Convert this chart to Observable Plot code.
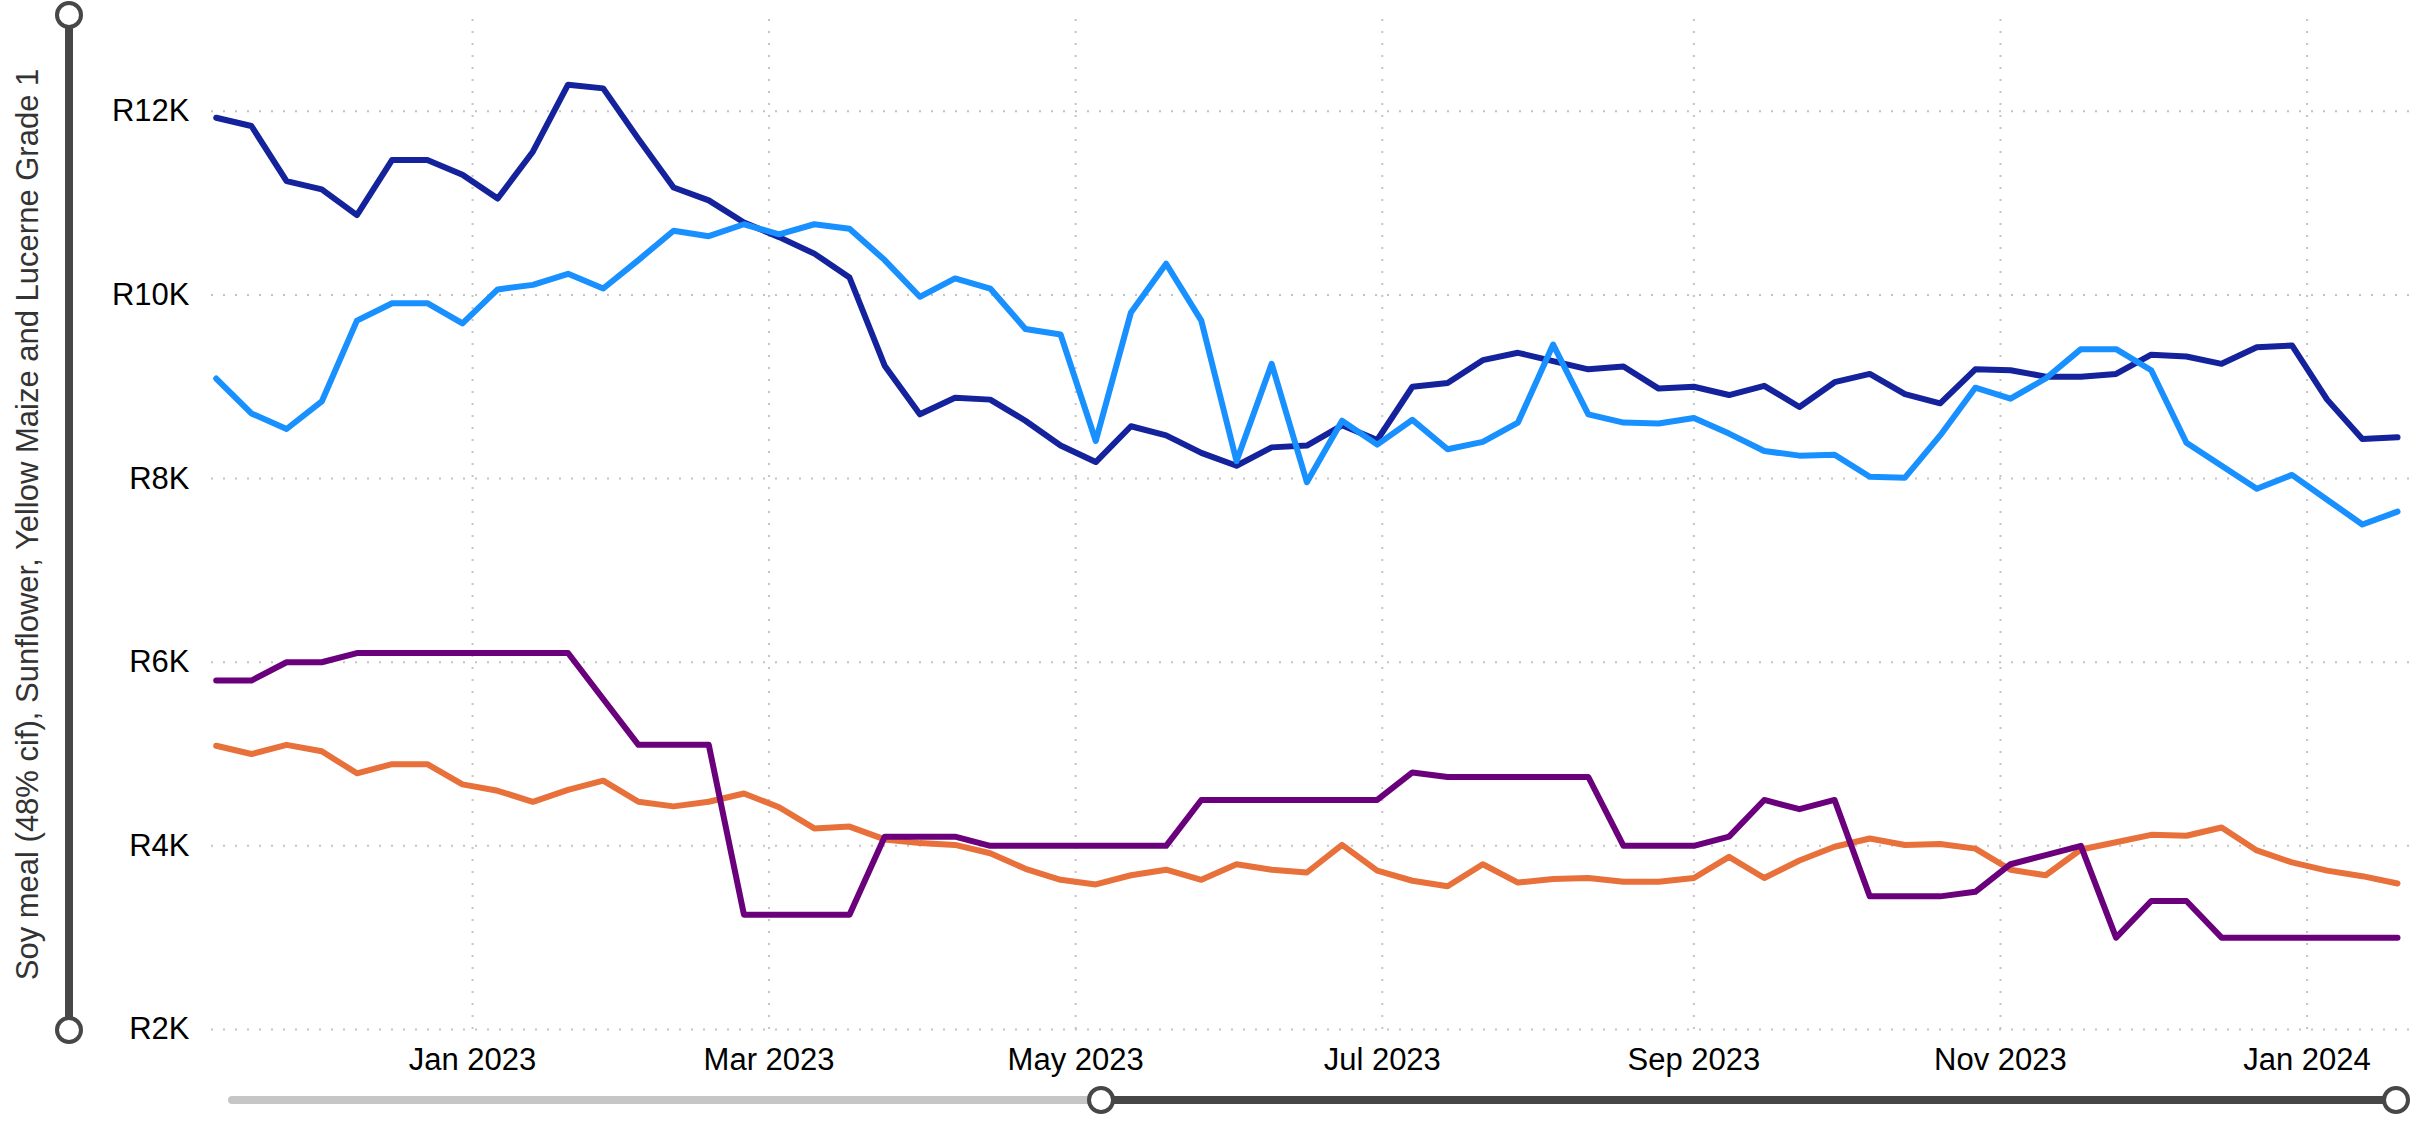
<!DOCTYPE html>
<html>
<head>
<meta charset="utf-8">
<script src="https://cdn.jsdelivr.net/npm/d3@7"></script>
<script src="https://cdn.jsdelivr.net/npm/@observablehq/plot@0.6"></script>
<style>
  html, body { margin: 0; padding: 0; background: #fff; }
  #wrap { position: relative; width: 2418px; height: 1122px; overflow: hidden; }
  #wrap svg { display: block; }
  #overlay { position: absolute; left: 0; top: 0; pointer-events: none; }
</style>
</head>
<body>
<div id="wrap"></div>
<script>
// ---- data ----
const dates = [
  "2022-11-11","2022-11-18","2022-11-25","2022-12-02","2022-12-09","2022-12-16","2022-12-23","2022-12-30",
  "2023-01-06","2023-01-13","2023-01-20","2023-01-27","2023-02-03","2023-02-10","2023-02-17","2023-02-24",
  "2023-03-03","2023-03-10","2023-03-17","2023-03-24","2023-03-31","2023-04-07","2023-04-14","2023-04-21",
  "2023-04-28","2023-05-05","2023-05-12","2023-05-19","2023-05-26","2023-06-02","2023-06-09","2023-06-16",
  "2023-06-23","2023-06-30","2023-07-07","2023-07-14","2023-07-21","2023-07-28","2023-08-04","2023-08-11",
  "2023-08-18","2023-08-25","2023-09-01","2023-09-08","2023-09-15","2023-09-22","2023-09-29","2023-10-06",
  "2023-10-13","2023-10-20","2023-10-27","2023-11-03","2023-11-10","2023-11-17","2023-11-24","2023-12-01",
  "2023-12-08","2023-12-15","2023-12-22","2023-12-29","2024-01-05","2024-01-12","2024-01-19"
];
const soyMeal = [
  11930,11840,11240,11150,10870,11470,11470,11310,11050,11560,
  12290,12250,11700,11170,11030,10790,10630,10450,10190,9230,
  8700,8880,8860,8630,8360,8180,8570,8470,8280,8140,
  8340,8360,8580,8420,9000,9040,9290,9370,9280,9190,
  9220,8980,9000,8910,9010,8780,9050,9140,8920,8820,
  9190,9180,9110,9110,9140,9350,9330,9250,9430,9450,
  8860,8430,8450
];
const sunflower = [
  9090,8710,8540,8840,9720,9910,9910,9690,10060,10110,
  10230,10070,10380,10700,10640,10770,10660,10770,10720,10380,
  9980,10180,10070,9630,9570,8410,9810,10340,9720,8190,
  9250,7960,8630,8370,8640,8320,8400,8610,9460,8700,
  8610,8600,8660,8490,8300,8250,8260,8020,8010,8470,
  8990,8870,9090,9410,9410,9180,8390,8140,7890,8040,
  7770,7500,7640
];
const yellowMaize = [
  5090,5000,5100,5030,4790,4890,4890,4670,4600,4480,
  4610,4710,4480,4430,4480,4570,4420,4190,4210,4070,
  4030,4010,3920,3750,3630,3580,3680,3740,3630,3800,
  3740,3710,4010,3730,3620,3560,3800,3600,3640,3650,
  3610,3610,3650,3880,3650,3840,3990,4080,4010,4020,
  3970,3740,3680,3960,4040,4120,4110,4200,3950,3820,
  3730,3670,3590
];
const lucerne = [
  5800,5800,6000,6000,6100,6100,6100,6100,6100,6100,
  6100,5600,5100,5100,5100,3250,3250,3250,3250,4100,
  4100,4100,4000,4000,4000,4000,4000,4000,4500,4500,
  4500,4500,4500,4500,4800,4750,4750,4750,4750,4750,
  4000,4000,4000,4100,4500,4400,4500,3450,3450,3450,
  3500,3800,3900,4000,3000,3400,3400,3000,3000,3000,
  3000,3000,3000
];
const seriesNames = ["Soy meal (48% cif)", "Sunflower", "Yellow Maize", "Lucerne Grade 1"];
const seriesColors = ["#14229c", "#1890ff", "#e8703a", "#6b007c"];
const yTicks = [2000, 4000, 6000, 8000, 10000, 12000];
const xTickDates = ["2023-01-01","2023-03-01","2023-05-01","2023-07-01","2023-09-01","2023-11-01","2024-01-01"];
const yLabel = "Soy meal (48% cif), Sunflower, Yellow Maize and Lucerne Grade 1";

// ---- build table ----
const seriesValues = [soyMeal, sunflower, yellowMaize, lucerne];
const rows = [];
seriesValues.forEach((vals, s) => {
  vals.forEach((v, i) => rows.push({series: seriesNames[s], date: new Date(dates[i] + "T00:00:00Z"), value: v}));
});
const xTicks = xTickDates.map(d => new Date(d + "T00:00:00Z"));

const W = 2418, H = 1122;
const chart = Plot.plot({
  width: W,
  height: H,
  marginLeft: 211,
  marginRight: 8,
  marginTop: 19,
  marginBottom: 93,
  style: {fontFamily: "'Liberation Sans', Arial, sans-serif", fontSize: "31px", color: "#000", background: "#fff", overflow: "visible"},
  x: {
    type: "utc",
    domain: [new Date("2022-11-10T01:30:00Z"), new Date("2024-01-21T14:00:00Z")],
    ticks: xTicks,
    tickFormat: d3.utcFormat("%b %Y"),
    tickSize: 0,
    tickPadding: 18,
    label: null
  },
  y: {
    domain: [2000, 13000],
    ticks: yTicks,
    tickFormat: d => `R${d / 1000}K`,
    tickSize: 0,
    tickPadding: 22,
    label: null
  },
  color: {domain: seriesNames, range: seriesColors},
  marks: [
    Plot.ruleY(yTicks, {stroke: "#c4c4c4", strokeWidth: 2, strokeDasharray: "2,10"}),
    Plot.ruleX(xTicks, {stroke: "#c4c4c4", strokeWidth: 2, strokeDasharray: "2,10"}),
    Plot.line(rows, {x: "date", y: "value", z: "series", stroke: "series", strokeWidth: 6, strokeLinejoin: "round", strokeLinecap: "round"}),
    Plot.text([yLabel], {frameAnchor: "left", rotate: -90, dx: -183, textAnchor: "middle", lineAnchor: "middle", fill: "#333", fontSize: 31})
  ]
});
document.getElementById("wrap").appendChild(chart);

// ---- slider decorations (UI chrome) ----
const ns = "http://www.w3.org/2000/svg";
const ov = document.createElementNS(ns, "svg");
ov.setAttribute("id", "overlay");
ov.setAttribute("width", W);
ov.setAttribute("height", H);
function el(tag, attrs) {
  const e = document.createElementNS(ns, tag);
  for (const k in attrs) e.setAttribute(k, attrs[k]);
  ov.appendChild(e);
  return e;
}
// vertical slider
el("line", {x1: 69, y1: 15, x2: 69, y2: 1030, stroke: "#474747", "stroke-width": 8});
el("circle", {cx: 69, cy: 15, r: 12, fill: "#fff", stroke: "#474747", "stroke-width": 4});
el("circle", {cx: 69, cy: 1030, r: 12, fill: "#fff", stroke: "#474747", "stroke-width": 4});
// horizontal slider
el("line", {x1: 232, y1: 1100, x2: 1101, y2: 1100, stroke: "#c6c6c6", "stroke-width": 8, "stroke-linecap": "round"});
el("line", {x1: 1101, y1: 1100, x2: 2396, y2: 1100, stroke: "#474747", "stroke-width": 8});
el("circle", {cx: 1101, cy: 1100, r: 12, fill: "#fff", stroke: "#474747", "stroke-width": 4});
el("circle", {cx: 2396, cy: 1100, r: 12, fill: "#fff", stroke: "#474747", "stroke-width": 4});
document.getElementById("wrap").appendChild(ov);
</script>
</body>
</html>
